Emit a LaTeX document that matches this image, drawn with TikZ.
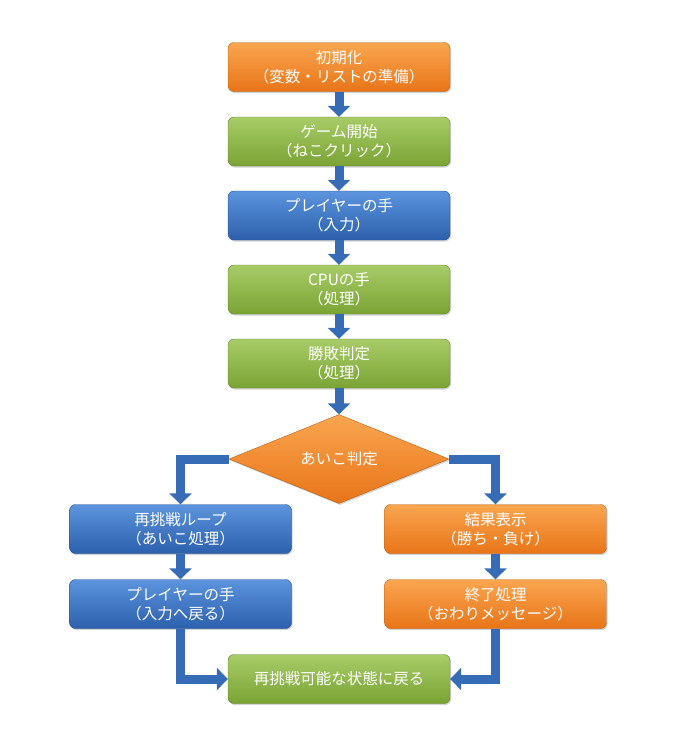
\documentclass[tikz,border=0pt]{standalone}
\usepackage{fontspec}
\newfontfamily\jp{Noto Sans CJK JP}
\usetikzlibrary{arrows.meta,shapes.geometric,shadows}
\definecolor{orngtop}{RGB}{250,166,80}
\definecolor{orngbot}{RGB}{232,116,24}
\definecolor{grntop}{RGB}{168,204,104}
\definecolor{grnbot}{RGB}{122,163,52}
\definecolor{blutop}{RGB}{92,148,222}
\definecolor{blubot}{RGB}{44,96,172}

\begin{document}
\begin{tikzpicture}[x=1pt,y=-1pt,
		box/.style={rounded corners=6pt, minimum width=222pt, minimum height=49pt, align=center,
			text=white, font=\jp\fontsize{15.5pt}{19pt}\selectfont, inner sep=1pt,
			drop shadow={shadow xshift=1pt, shadow yshift=-1.5pt, opacity=0.35}},
		orng/.style={box, top color=orngtop, bottom color=orngbot, draw=orngbot!80!black},
		grn/.style={box, top color=grntop, bottom color=grnbot, draw=grnbot!80!black},
		blu/.style={box, top color=blutop, bottom color=blubot, draw=blubot!80!black},
		flow/.style={draw={rgb,255:red,54;green,108;blue,182}, line width=9pt,
			-{Triangle[width=22pt,length=11pt]}}
	]
	\useasboundingbox (0,0) rectangle (681,744);

	% main column
	\node[orng] (init) at (339,67) {初期化\\（変数・リストの準備）};
	\node[grn] (start) at (339,141.5) {ゲーム開始\\（ねこクリック）};
	\node[blu] (player) at (339,215.5) {プレイヤーの手\\（入力）};
	\node[grn] (cpu) at (339,289.5) {CPUの手\\（処理）};
	\node[grn] (judge) at (339,363.5) {勝敗判定\\（処理）};
	\node[diamond, aspect=2.42, minimum width=220pt, minimum height=89pt, inner sep=0pt,
		top color=orngtop, bottom color=orngbot, draw=orngbot!80!black,
		text=white, font=\jp\fontsize{15.5pt}{19pt}\selectfont,
		drop shadow={shadow xshift=1pt, shadow yshift=-1.5pt, opacity=0.35}] (draw) at (339,459) {あいこ判定};

	% branches
	\node[blu] (retry) at (180.5,529) {再挑戦ループ\\（あいこ処理）};
	\node[blu] (back) at (180.5,604) {プレイヤーの手\\（入力へ戻る）};
	\node[orng] (result) at (495.5,529) {結果表示\\（勝ち・負け）};
	\node[orng] (finish) at (495.5,604) {終了処理\\（おわりメッセージ）};
	\node[grn] (again) at (339,679) {再挑戦可能な状態に戻る};

	% connectors
	\draw[flow] (init) -- (start);
	\draw[flow] (start) -- (player);
	\draw[flow] (player) -- (cpu);
	\draw[flow] (cpu) -- (judge);
	\draw[flow] (judge) -- (draw);
	\draw[flow] (draw.west) -| (retry.north);
	\draw[flow] (draw.east) -| (result.north);
	\draw[flow] (retry) -- (back);
	\draw[flow] (result) -- (finish);
	\draw[flow] (back.south) |- (again.west);
	\draw[flow] (finish.south) |- (again.east);
\end{tikzpicture}
\end{document}
